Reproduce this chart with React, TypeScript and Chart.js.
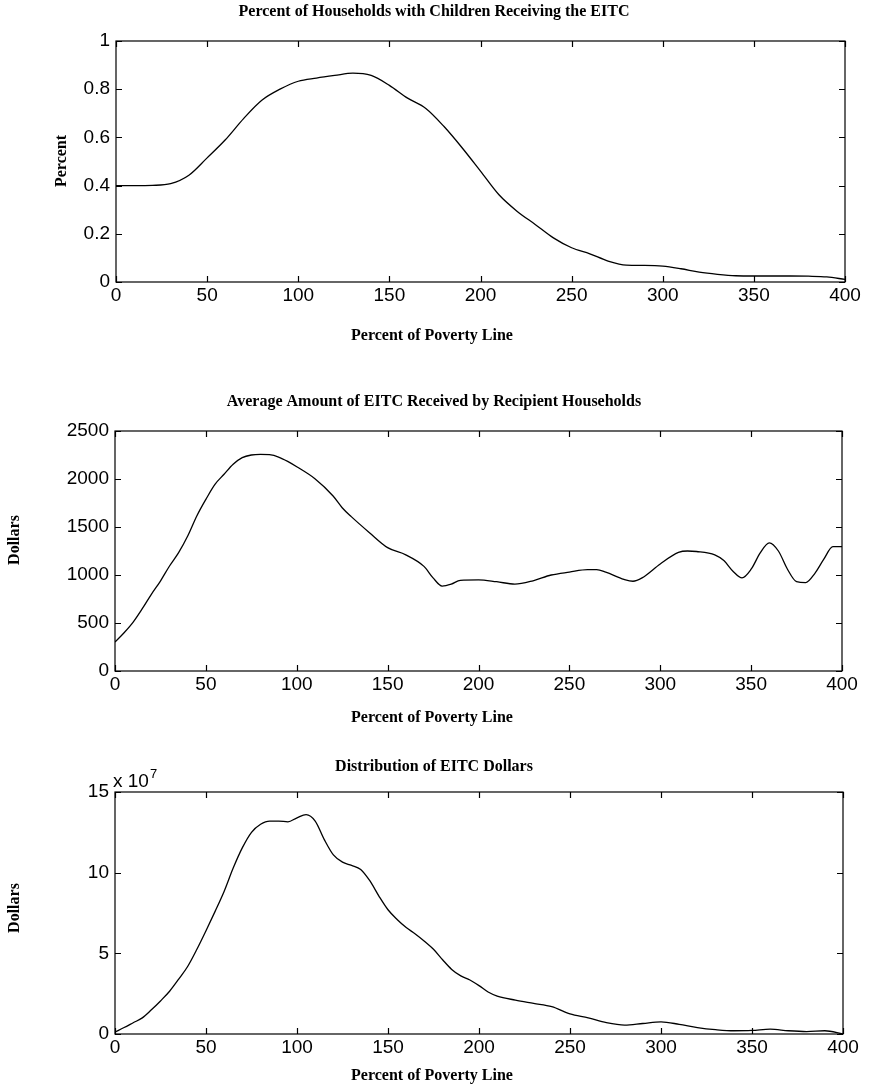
import React, { useEffect, useRef } from "react";
import { Chart, registerables } from "chart.js";

Chart.register(...registerables);

// ---------- data ----------
const xTickValues = [0, 50, 100, 150, 200, 250, 300, 350, 400];

// Panel 1: Percent of households with children receiving the EITC
const povertyPct1 = [0, 10, 20, 30, 40, 50, 60, 70, 80, 90, 100, 110, 120, 130, 140, 150, 160, 170, 180, 190, 200, 210, 220, 230, 240, 250, 260, 270, 280, 290, 300, 310, 320, 330, 340, 350, 360, 370, 380, 390, 400];
const shareReceiving = [0.40, 0.40, 0.401, 0.408, 0.443, 0.515, 0.59, 0.678, 0.754, 0.80, 0.833, 0.846, 0.857, 0.867, 0.857, 0.816, 0.763, 0.72, 0.645, 0.556, 0.46, 0.363, 0.294, 0.239, 0.183, 0.142, 0.117, 0.087, 0.07, 0.069, 0.066, 0.055, 0.041, 0.032, 0.026, 0.025, 0.025, 0.025, 0.024, 0.021, 0.011];

// Panel 2: Average amount of EITC received by recipient households (dollars)
const povertyPct2 = [0, 5, 10, 15, 20, 25, 30, 35, 40, 45, 50, 55, 60, 65, 70, 75, 80, 85, 90, 95, 100, 110, 120, 125, 130, 140, 150, 160, 170, 175, 180, 185, 190, 200, 210, 220, 230, 240, 250, 260, 265, 270, 280, 285, 290, 300, 310, 315, 320, 330, 335, 340, 345, 350, 355, 360, 365, 370, 375, 380, 385, 390, 395, 400];
const avgAmount = [302, 399, 510, 649, 799, 937, 1094, 1233, 1406, 1615, 1788, 1944, 2049, 2153, 2222, 2250, 2257, 2253, 2229, 2184, 2128, 2003, 1823, 1701, 1608, 1441, 1285, 1210, 1090, 970, 885, 905, 945, 950, 930, 905, 940, 1000, 1030, 1055, 1055, 1030, 955, 935, 970, 1115, 1235, 1250, 1245, 1210, 1150, 1040, 970, 1060, 1230, 1335, 1250, 1060, 930, 920, 1015, 1165, 1295, 1295];

// Panel 3: Distribution of EITC dollars (units of 10^7 dollars)
const povertyPct3 = [0, 5, 10, 15, 20, 25, 30, 35, 40, 45, 50, 55, 60, 65, 70, 75, 80, 85, 90, 95, 100, 105, 110, 115, 120, 125, 130, 135, 140, 145, 150, 155, 160, 165, 170, 175, 180, 185, 190, 195, 200, 205, 210, 220, 230, 240, 250, 260, 270, 280, 290, 300, 310, 320, 330, 340, 350, 360, 370, 380, 390, 400];
const dollarsE7 = [0.12, 0.4, 0.7, 1.0, 1.5, 2.05, 2.65, 3.4, 4.2, 5.25, 6.4, 7.6, 8.85, 10.3, 11.55, 12.5, 13.0, 13.2, 13.2, 13.15, 13.4, 13.6, 13.2, 12.05, 11.1, 10.65, 10.45, 10.2, 9.5, 8.55, 7.7, 7.1, 6.6, 6.2, 5.75, 5.25, 4.6, 4.0, 3.6, 3.35, 3.0, 2.6, 2.35, 2.1, 1.9, 1.7, 1.25, 1.0, 0.7, 0.55, 0.65, 0.75, 0.6, 0.4, 0.27, 0.2, 0.22, 0.3, 0.2, 0.15, 0.2, 0.0];

const titles = [
  "Percent of Households with Children Receiving the EITC",
  "Average Amount of EITC Received by Recipient Households",
  "Distribution of EITC Dollars",
];
const xAxisTitle = "Percent of Poverty Line";
const yAxisTitles = ["Percent", "Dollars", "Dollars"];

// ---------- layout ----------
const W = 869;
const TITLE_FONT = "bold 16px 'Liberation Serif', 'DejaVu Serif', serif";
const TICK_FAMILY = "'Liberation Sans', Arial, sans-serif";
const TICK_SIZE = 19;

type PanelSpec = {
  top: number;
  height: number;
  area: { left: number; top: number; right: number; bottom: number };
  titleY: number;
  xTitleY: number;
  yTitleX: number;
  yTitleY: number;
  xs: number[];
  ys: number[];
  yMax: number;
  yStep: number;
  title: string;
  yTitle: string;
  exponent?: { x: number; y: number; text: string; sup: string };
};

const panels: PanelSpec[] = [
  {
    top: 0, height: 360,
    area: { left: 116, top: 41, right: 845, bottom: 282 },
    titleY: 12, xTitleY: 336, yTitleX: 62, yTitleY: 161,
    xs: povertyPct1, ys: shareReceiving, yMax: 1, yStep: 0.2,
    title: titles[0], yTitle: yAxisTitles[0],
  },
  {
    top: 365, height: 375,
    area: { left: 115, top: 66, right: 842, bottom: 306 },
    titleY: 37, xTitleY: 353, yTitleX: 15, yTitleY: 175,
    xs: povertyPct2, ys: avgAmount, yMax: 2500, yStep: 500,
    title: titles[1], yTitle: yAxisTitles[1],
  },
  {
    top: 740, height: 349,
    area: { left: 115, top: 52, right: 843, bottom: 294 },
    titleY: 27, xTitleY: 336, yTitleX: 15, yTitleY: 168,
    xs: povertyPct3, ys: dollarsE7, yMax: 15, yStep: 5,
    title: titles[2], yTitle: yAxisTitles[2],
    exponent: { x: 113, y: 41, text: "x 10", sup: "7" },
  },
];

function makeFramePlugin(p: PanelSpec) {
  return {
    id: "matlabFrame",
    afterDraw(chart: any) {
      const ctx: CanvasRenderingContext2D = chart.ctx;
      const a = chart.chartArea;
      const xs = chart.scales.x;
      const ys = chart.scales.y;
      ctx.save();
      ctx.strokeStyle = "#000";
      ctx.lineWidth = 1.2;
      ctx.strokeRect(a.left, a.top, a.right - a.left, a.bottom - a.top);
      const tl = 6;
      ctx.beginPath();
      xs.ticks.forEach((t: any) => {
        const px = Math.round(xs.getPixelForValue(t.value)) + 0.5;
        ctx.moveTo(px, a.bottom);
        ctx.lineTo(px, a.bottom - tl);
        ctx.moveTo(px, a.top);
        ctx.lineTo(px, a.top + tl);
      });
      ys.ticks.forEach((t: any) => {
        const py = Math.round(ys.getPixelForValue(t.value)) + 0.5;
        ctx.moveTo(a.left, py);
        ctx.lineTo(a.left + tl, py);
        ctx.moveTo(a.right, py);
        ctx.lineTo(a.right - tl, py);
      });
      ctx.stroke();

      ctx.fillStyle = "#000";
      ctx.textAlign = "center";
      ctx.textBaseline = "middle";
      ctx.font = TITLE_FONT;
      ctx.fillText(p.title, 434, p.titleY);
      ctx.fillText(xAxisTitle, 432, p.xTitleY);
      ctx.save();
      ctx.translate(p.yTitleX, p.yTitleY);
      ctx.rotate(-Math.PI / 2);
      ctx.fillText(p.yTitle, 0, 0);
      ctx.restore();

      if (p.exponent) {
        ctx.textAlign = "left";
        ctx.textBaseline = "alphabetic";
        ctx.font = `${TICK_SIZE}px ${TICK_FAMILY}`;
        ctx.fillText(p.exponent.text, p.exponent.x, p.exponent.y + 6);
        const w = ctx.measureText(p.exponent.text).width;
        ctx.font = `13px ${TICK_FAMILY}`;
        ctx.fillText(p.exponent.sup, p.exponent.x + w + 1, p.exponent.y - 3);
      }
      ctx.restore();
    },
  };
}

function Panel({ spec }: { spec: PanelSpec }) {
  const ref = useRef<HTMLCanvasElement | null>(null);
  useEffect(() => {
    if (!ref.current) return;
    const p = spec;
    const chart = new Chart(ref.current, {
      type: "line",
      data: {
        datasets: [
          {
            data: p.xs.map((x, i) => ({ x, y: p.ys[i] })),
            borderColor: "#000",
            borderWidth: 1.3,
            pointRadius: 0,
            fill: false,
            cubicInterpolationMode: "monotone",
          },
        ],
      },
      options: {
        responsive: false,
        animation: false,
        devicePixelRatio: 1,
        layout: {
          padding: { left: 0, top: p.area.top, right: W - p.area.right, bottom: 0 },
        },
        plugins: { legend: { display: false }, title: { display: false }, tooltip: { enabled: false } },
        scales: {
          x: {
            type: "linear",
            min: 0,
            max: 400,
            afterBuildTicks: (s: any) => {
              s.ticks = xTickValues.map((v) => ({ value: v }));
            },
            afterFit: (s: any) => {
              s.height = p.height - p.area.bottom;
            },
            grid: { display: false, drawTicks: false },
            border: { display: false },
            ticks: {
              color: "#000",
              font: { family: TICK_FAMILY, size: TICK_SIZE },
              padding: 2,
              maxRotation: 0,
              autoSkip: false,
              callback: (v: any) => String(v),
            },
          },
          y: {
            type: "linear",
            min: 0,
            max: p.yMax,
            afterFit: (s: any) => {
              s.width = p.area.left;
            },
            grid: { display: false, drawTicks: false },
            border: { display: false },
            ticks: {
              stepSize: p.yStep,
              color: "#000",
              font: { family: TICK_FAMILY, size: TICK_SIZE },
              padding: 6,
              callback: (v: any) => String(Math.round(Number(v) * 1000) / 1000),
            },
          },
        },
      },
      plugins: [makeFramePlugin(p)],
    } as any);
    return () => chart.destroy();
  }, [spec]);
  return (
    <canvas
      ref={ref}
      width={W}
      height={spec.height}
      style={{ position: "absolute", left: 0, top: spec.top, width: W, height: spec.height }}
    />
  );
}

export default function App() {
  return (
    <div style={{ position: "absolute", left: 0, top: 0, width: W, height: 1089, background: "#fff" }}>
      {panels.map((p, i) => (
        <Panel key={i} spec={p} />
      ))}
    </div>
  );
}
